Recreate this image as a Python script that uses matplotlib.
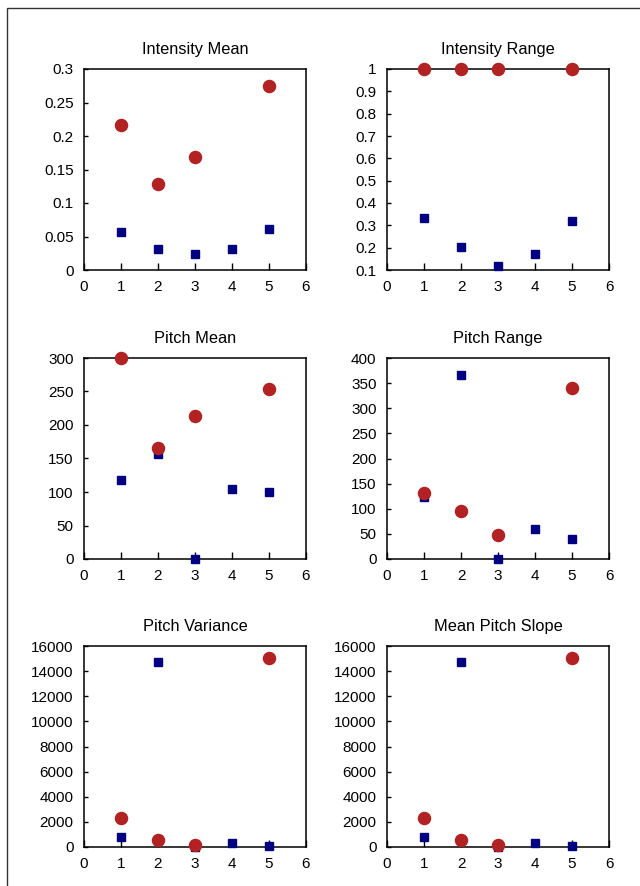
import matplotlib.pyplot as plt
import matplotlib.patches as patches

plt.rcParams['font.family'] = ['Liberation Sans', 'DejaVu Sans']

# x positions
x_red = [1, 2, 3, 5]
x_blue = [1, 2, 3, 4, 5]

# values for each panel (red circles / blue squares)
intensity_mean_red = [0.216, 0.129, 0.168, 0.275]
intensity_mean_blue = [0.056, 0.032, 0.024, 0.032, 0.061]

intensity_range_red = [1.0, 1.0, 1.0, 1.0]
intensity_range_blue = [0.332, 0.203, 0.119, 0.172, 0.318]

pitch_mean_red = [300, 165, 214, 254]
pitch_mean_blue = [118, 156, 0, 104, 100]

pitch_range_red = [131, 95, 47, 341]
pitch_range_blue = [124, 366, 0, 59, 39]

pitch_var_red = [2282, 557, 186, 15072]
pitch_var_blue = [823, 14750, 0, 345, 80]

slope_red = [2282, 557, 186, 15072]
slope_blue = [823, 14750, 0, 345, 80]

titles = ['Intensity Mean', 'Intensity Range', 'Pitch Mean', 'Pitch Range',
          'Pitch Variance', 'Mean Pitch Slope']
reds = [intensity_mean_red, intensity_range_red, pitch_mean_red, pitch_range_red,
        pitch_var_red, slope_red]
blues = [intensity_mean_blue, intensity_range_blue, pitch_mean_blue, pitch_range_blue,
         pitch_var_blue, slope_blue]
yticks = [
    [0, 0.05, 0.1, 0.15, 0.2, 0.25, 0.3],
    [0.1, 0.2, 0.3, 0.4, 0.5, 0.6, 0.7, 0.8, 0.9, 1],
    [0, 50, 100, 150, 200, 250, 300],
    [0, 50, 100, 150, 200, 250, 300, 350, 400],
    [0, 2000, 4000, 6000, 8000, 10000, 12000, 14000, 16000],
    [0, 2000, 4000, 6000, 8000, 10000, 12000, 14000, 16000],
]

W, H = 640, 886
fig = plt.figure(figsize=(W / 100, H / 100), dpi=100)

# axes boxes in pixels: left, top, right, bottom
lefts = [84, 387]
rights = [306, 609]
tops = [69, 358, 646]
bottoms = [270, 559, 847]

for i in range(6):
    r, c = divmod(i, 2)
    l, rr = lefts[c], rights[c]
    t, b = tops[r], bottoms[r]
    ax = fig.add_axes([l / W, 1 - b / H, (rr - l) / W, (b - t) / H])
    ax.plot(x_blue, blues[i], 's', color='#000080', markersize=6, clip_on=False, zorder=3)
    ax.plot(x_red, reds[i], 'o', color='#b22222', markersize=8.7, clip_on=False, zorder=4)
    ax.set_xlim(0, 6)
    ax.set_ylim(yticks[i][0], yticks[i][-1])
    ax.set_xticks(range(7))
    ax.set_yticks(yticks[i])
    ax.set_yticklabels(['%g' % v for v in yticks[i]])
    ax.tick_params(axis='x', direction='in', length=4.8, width=1, labelsize=11, pad=7.5)
    ax.tick_params(axis='y', direction='in', length=3.2, width=1, labelsize=11, pad=7.5)
    for s in ax.spines.values():
        s.set_linewidth(1.1)
    ax.set_title(titles[i], fontsize=11.8, pad=11)

# outer frame
fig.patches.append(patches.Rectangle((7 / W, -0.1), 1.2, 1 - 7.5 / H + 0.1,
                                     transform=fig.transFigure, fill=False,
                                     edgecolor='#333333', linewidth=1, clip_on=False))

fig.savefig('out.png', dpi=100)
